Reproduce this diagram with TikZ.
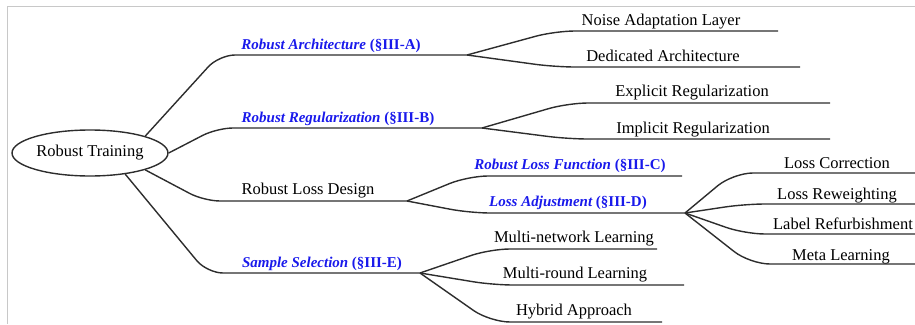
\documentclass[tikz,border=0pt]{standalone}
\usepackage{fontspec}
\setmainfont{Liberation Serif}
\usetikzlibrary{shapes.geometric}
\definecolor{seclink}{RGB}{25,25,235}
\definecolor{branch}{RGB}{45,45,45}
\definecolor{framegray}{RGB}{200,200,200}
\begin{document}
\begin{tikzpicture}[x=1pt,y=-1pt,
  branchline/.style={draw=branch, line width=1.4pt, rounded corners=16pt},
  childline/.style={draw=branch, line width=1.4pt, rounded corners=20pt},
  plain/.style={font=\fontsize{16.5}{18}\selectfont, anchor=base, inner sep=0pt},
  sec/.style={plain, text=seclink, font=\fontsize{15}{17}\selectfont\bfseries}]
\useasboundingbox (0,0) rectangle (915,324);
% partial frame
\draw[framegray, line width=1pt] (7,324) -- (7,6) -- (915,6);

% root
\node[draw=branch, line width=1.4pt, ellipse, minimum width=156pt, minimum height=46pt,
      inner sep=0pt, font=\fontsize{16.5}{18}\selectfont] (rt) at (90,153) {Robust Training};

% ---- Robust Architecture
\coordinate (kA) at (219,55); \coordinate (fA) at (467,55);
\draw[branchline] (rt.17) -- (kA) -- (fA);
\node[sec] (lA) at (331,49) {{\itshape Robust Architecture} (§III-A)};
\coordinate (kA1) at (555,31); \coordinate (eA1) at (778,31);
\draw[childline] (fA) -- (kA1) -- (eA1);
\node[plain] (lA1) at (661,25) {Noise Adaptation Layer};
\coordinate (kA2) at (555,67); \coordinate (eA2) at (800,67);
\draw[childline] (fA) -- (kA2) -- (eA2);
\node[plain] (lA2) at (663,61) {Dedicated Architecture};

% ---- Robust Regularization
\coordinate (kB) at (217,128); \coordinate (fB) at (482,128);
\draw[branchline] (rt.0) -- (kB) -- (fB);
\node[sec] (lB) at (338,122) {{\itshape Robust Regularization} (§III-B)};
\coordinate (kB1) at (568,103); \coordinate (eB1) at (830,103);
\draw[childline] (fB) -- (kB1) -- (eB1);
\node[plain] (lB1) at (692,96) {Explicit Regularization};
\coordinate (kB2) at (568,139); \coordinate (eB2) at (830,139);
\draw[childline] (fB) -- (kB2) -- (eB2);
\node[plain] (lB2) at (693,133) {Implicit Regularization};

% ---- Robust Loss Design
\coordinate (kC) at (204,201); \coordinate (fC) at (407,201);
\draw[branchline] (rt.-17) -- (kC) -- (fC);
\node[plain] (lC) at (308,194) {Robust Loss Design};
\coordinate (kC1) at (468,176); \coordinate (eC1) at (682,176);
\draw[childline] (fC) -- (kC1) -- (eC1);
\node[sec] (lC1) at (570,169) {{\itshape Robust Loss Function} (§III-C)};
\coordinate (kC2) at (470,213); \coordinate (fD) at (685,213);
\draw[childline] (fC) -- (kC2) -- (fD);
\node[sec] (lC2) at (568,206) {{\itshape Loss Adjustment} (§III-D)};

% ---- Loss Adjustment children
\coordinate (kD1) at (733,173); \coordinate (eD1) at (915,173);
\draw[childline] (fD) -- (kD1) -- (eD1);
\node[plain] (lD1) at (837,168) {Loss Correction};
\coordinate (kD2) at (745,204); \coordinate (eD2) at (915,204);
\draw[childline] (fD) -- (kD2) -- (eD2);
\node[plain] (lD2) at (837,199) {Loss Reweighting};
\coordinate (kD3) at (745,234); \coordinate (eD3) at (915,234);
\draw[childline] (fD) -- (kD3) -- (eD3);
\node[plain] (lD3) at (843,229) {Label Refurbishment};
\coordinate (kD4) at (750,264); \coordinate (eD4) at (915,264);
\draw[childline] (fD) -- (kD4) -- (eD4);
\node[plain] (lD4) at (841,260) {Meta Learning};

% ---- Sample Selection
\coordinate (kE) at (207,273); \coordinate (fE) at (420,273);
\draw[branchline] (rt.-31) -- (kE) -- (fE);
\node[sec] (lE) at (322,267) {{\itshape Sample Selection} (§III-E)};
\coordinate (kE1) at (490,249); \coordinate (eE1) at (657,249);
\draw[childline] (fE) -- (kE1) -- (eE1);
\node[plain] (lE1) at (574,242) {Multi-network Learning};
\coordinate (kE2) at (493,285); \coordinate (eE2) at (684,285);
\draw[childline] (fE) -- (kE2) -- (eE2);
\node[plain] (lE2) at (575,278) {Multi-round Learning};
\coordinate (kE3) at (490,322); \coordinate (eE3) at (662,322);
\draw[childline] (fE) -- (kE3) -- (eE3);
\node[plain] (lE3) at (574,315) {Hybrid Approach};
\end{tikzpicture}
\end{document}
